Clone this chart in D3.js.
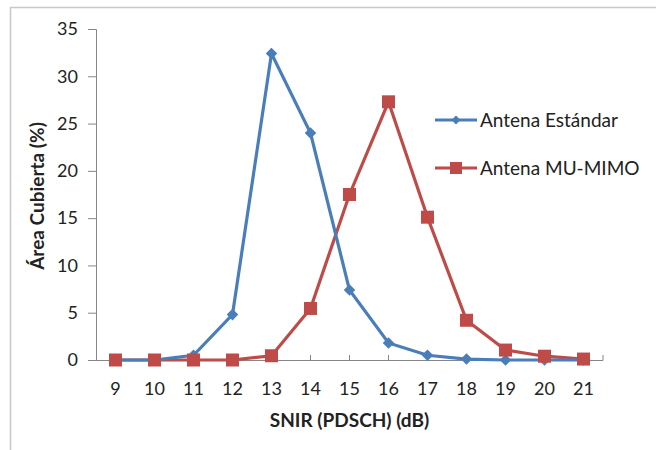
<!DOCTYPE html>
<html>
<head>
<meta charset="utf-8">
<script src="https://cdn.jsdelivr.net/npm/d3@7"></script>
<style>
  body { margin: 0; background: #fff; }
  svg text { font-family: Lato, "Open Sans", sans-serif; fill: #222; }
</style>
</head>
<body>
<div id="chart"></div>
<script>
// data
var snir = [9, 10, 11, 12, 13, 14, 15, 16, 17, 18, 19, 20, 21]
var estandar = [0, 0, 0.5, 4.8, 32.4, 24, 7.4, 1.8, 0.5, 0.1, 0, 0, 0]
var muMimo = [0, 0, 0, 0, 0.45, 5.45, 17.5, 27.3, 15.1, 4.2, 1.05, 0.4, 0.1]
var yTicks = [0, 5, 10, 15, 20, 25, 30, 35]
var seriesNames = ['Antena Estándar', 'Antena MU-MIMO']

var width = 656
var height = 450
var margin = { top: 29, left: 96 }
var plotW = 507
var plotH = 331

var blue = '#4a7ebb'
var red = '#be4b48'

var svg = d3
  .select('#chart')
  .append('svg')
  .attr('width', width)
  .attr('height', height)

// outer chart border (only top and left visible)
svg.append('path')
  .attr('d', 'M10.5,' + height + 'V7.5H' + width)
  .attr('fill', 'none')
  .attr('stroke', '#c8c8c8')
  .attr('stroke-width', 1.5)

var g = svg.append('g')
  .attr('transform', 'translate(' + margin.left + ',' + margin.top + ')')

var x = d3.scaleBand().domain(snir).range([0, plotW])
var y = d3.scaleLinear().domain([0, 35]).range([plotH, 0])
var cx = d => x(d) + x.bandwidth() / 2

// y axis
var yAxis = g.append('g')
  .call(d3.axisLeft(y).tickValues(yTicks).tickSize(8).tickPadding(10))
yAxis.select('.domain').attr('stroke', '#868686').attr('d', 'M-8,0.5H0.5V' + (plotH + 0.5))
yAxis.selectAll('.tick line').attr('stroke', '#868686')
yAxis.selectAll('.tick text').style('font-size', '18px').attr('fill', '#222')

// x axis
var xAxis = g.append('g')
  .attr('transform', 'translate(0,' + plotH + ')')
  .call(d3.axisBottom(x).tickSize(0).tickPadding(22))
xAxis.select('.domain').attr('stroke', '#868686').attr('d', 'M0,0.5H' + plotW + 'V-5')
xAxis.selectAll('.tick text').style('font-size', '18px').attr('fill', '#222')
xAxis.selectAll('.tick')
  .append('line')
  .attr('y1', 0)
  .attr('y2', -5)
  .attr('stroke', '#868686')

// axis titles
svg.append('text')
  .attr('x', margin.left + plotW / 2)
  .attr('y', 427)
  .attr('text-anchor', 'middle')
  .style('font-size', '19px')
  .style('font-weight', 'bold')
  .text('SNIR (PDSCH) (dB)')

svg.append('text')
  .attr('transform', 'translate(44,196) rotate(-90)')
  .attr('text-anchor', 'middle')
  .style('font-size', '19px')
  .style('font-weight', 'bold')
  .text('Área Cubierta (%)')

var line = d3.line()
  .x((d, i) => cx(snir[i]))
  .y(d => y(d))

// MU-MIMO series
g.append('path')
  .datum(muMimo)
  .attr('d', line)
  .attr('fill', 'none')
  .attr('stroke', red)
  .attr('stroke-width', 3.2)

// standard antenna series
g.append('path')
  .datum(estandar)
  .attr('d', line)
  .attr('fill', 'none')
  .attr('stroke', blue)
  .attr('stroke-width', 3.2)

g.selectAll('.diamond')
  .data(estandar)
  .enter()
  .append('path')
  .attr('class', 'diamond')
  .attr('d', d3.symbol().type(d3.symbolDiamond2).size(85))
  .attr('transform', (d, i) => 'translate(' + cx(snir[i]) + ',' + y(d) + ')')
  .attr('fill', blue)

g.selectAll('.square')
  .data(muMimo)
  .enter()
  .append('rect')
  .attr('class', 'square')
  .attr('x', (d, i) => cx(snir[i]) - 6.5)
  .attr('y', d => y(d) - 6.5)
  .attr('width', 13)
  .attr('height', 13)
  .attr('fill', red)

// legend
var legend = svg.append('g').attr('transform', 'translate(435,120)')
var legendColors = [blue, red]
seriesNames.forEach((name, i) => {
  var row = legend.append('g').attr('transform', 'translate(0,' + i * 48 + ')')
  row.append('line')
    .attr('x1', 0).attr('x2', 42)
    .attr('stroke', legendColors[i]).attr('stroke-width', 3)
  if (i === 0) {
    row.append('path')
      .attr('d', d3.symbol().type(d3.symbolDiamond2).size(50))
      .attr('transform', 'translate(21,0)')
      .attr('fill', blue)
  } else {
    row.append('rect')
      .attr('x', 15).attr('y', -6).attr('width', 12).attr('height', 12)
      .attr('fill', red)
  }
  row.append('text')
    .attr('x', 45)
    .attr('dy', '0.35em')
    .style('font-size', '19px')
    .text(name)
})
</script>
</body>
</html>
